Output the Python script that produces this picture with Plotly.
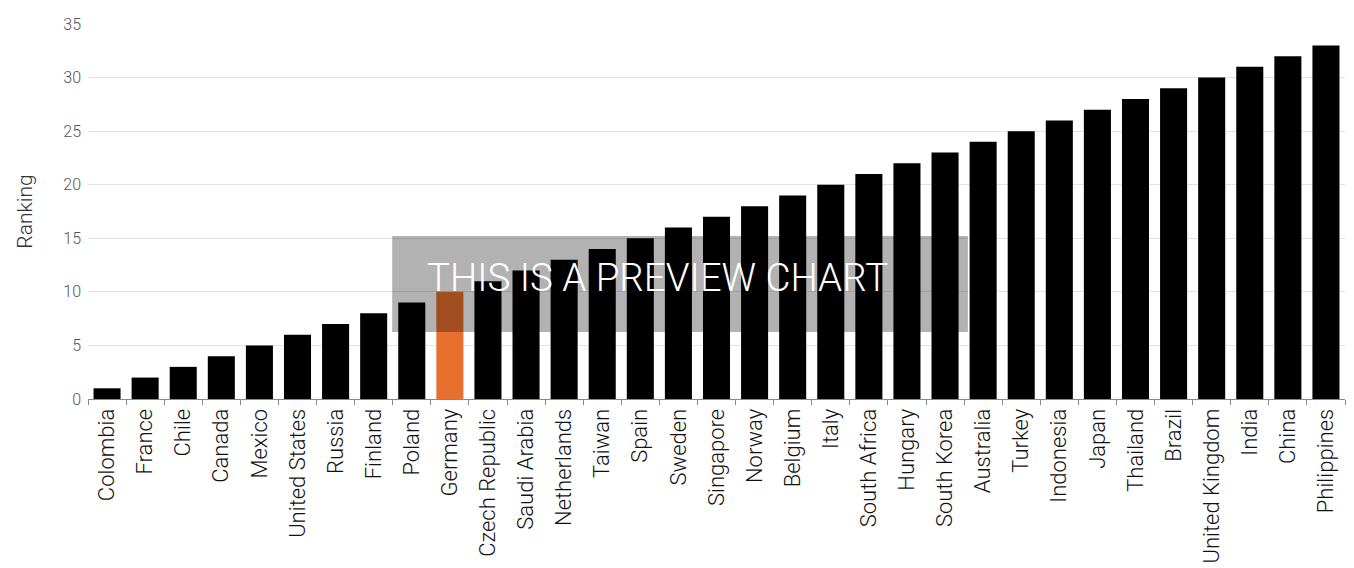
import plotly.graph_objects as go

countries = ["Colombia", "France", "Chile", "Canada", "Mexico", "United States", "Russia",
             "Finland", "Poland", "Germany", "Czech Republic", "Saudi Arabia", "Netherlands",
             "Taiwan", "Spain", "Sweden", "Singapore", "Norway", "Belgium", "Italy",
             "South Africa", "Hungary", "South Korea", "Australia", "Turkey", "Indonesia",
             "Japan", "Thailand", "Brazil", "United Kingdom", "India", "China", "Philippines"]
ranking = [1, 2, 3, 4, 5, 6, 7, 8, 9, 10, 11, 12, 13, 14, 15, 16, 17, 18, 19, 20,
           21, 22, 23, 24, 25, 26, 27, 28, 29, 30, 31, 32, 33]
highlight = "Germany"
y_ticks = [0, 5, 10, 15, 20, 25, 30, 35]

colors = ["#E8702F" if c == highlight else "#000000" for c in countries]

fig = go.Figure(go.Bar(x=countries, y=ranking, marker=dict(color=colors, line=dict(width=0)),
                       hoverinfo="x+y"))

fig.update_layout(
    width=1354, height=568,
    margin=dict(l=80, r=17, t=16, b=177),
    paper_bgcolor="white", plot_bgcolor="white",
    bargap=0.29,
    showlegend=False,
    font=dict(family="Roboto", color="#333333", weight=300),
    xaxis=dict(
        automargin=False,
        tickangle=-90, tickfont=dict(size=22, color="#111111", weight=300),
        showline=True, linecolor="#888888", linewidth=1,
        ticks="outside", tickson="boundaries", ticklen=5, tickcolor="#888888",
        showgrid=False,
    ),
    yaxis=dict(
        automargin=False,
        range=[0, 35], tickvals=y_ticks, tickfont=dict(size=16, color="#555555", weight=300),
        ticklabelstandoff=6,
        showgrid=True, gridcolor="#e3e3e3", gridwidth=1, zeroline=False,
        title=dict(text="Ranking", font=dict(size=21, color="#333333", weight=300), standoff=24),
    ),
    shapes=[dict(type="rect", xref="paper", yref="paper", x0=0.242, x1=0.700,
                 y0=0.1787, y1=0.4347, fillcolor="rgba(0,0,0,0.3)", line=dict(width=0),
                 layer="above")],
    annotations=[dict(text="THIS IS A PREVIEW CHART", xref="paper", yref="paper",
                      x=0.4527, y=0.3227, xanchor="center", yanchor="middle", showarrow=False,
                      font=dict(size=38.5, color="white", family="Roboto", weight=300))],
)

fig.write_html("out.html")
